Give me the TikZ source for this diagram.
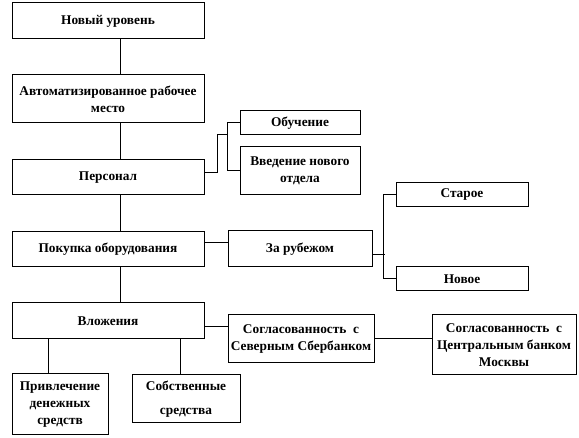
\documentclass[tikz,border=0pt]{standalone}
\usepackage{fontspec}
\setmainfont{Liberation Serif}
\usetikzlibrary{calc,positioning}
\tikzset{
 org box/.style={draw=black,line width=.75pt,fill=white,inner sep=1pt,
                 align=center,font=\fontsize{10}{12.75}\selectfont\bfseries},
 org link/.style={line width=.75pt,black}
}

\begin{document}
\begin{tikzpicture}[x=.75pt,y=-.75pt]
 \useasboundingbox (0,0) rectangle (579,438);

 % main column
 \node[org box,minimum width=144pt,minimum height=27pt] (novy) at (108,21) {Новый уровень};
 \node[org box,minimum width=144pt,minimum height=36pt] (arm) at (108,99)
   {Автоматизированное рабочее\\место};
 \node[org box,minimum width=144pt,minimum height=26.25pt] (pers) at (108,177.5) {Персонал};
 \node[org box,minimum width=144pt,minimum height=26.25pt] (pokup) at (108,249.5) {Покупка оборудования};
 \node[org box,minimum width=144pt,minimum height=27pt] (vlozh) at (108,321) {Вложения};

 % branches
 \node[org box,minimum width=90pt,minimum height=18pt] (obuch) at (300,123) {Обучение};
 \node[org box,minimum width=90pt,minimum height=36pt] (vved) at (300,171)
   {Введение нового\\отдела};
 \node[org box,minimum width=108pt,minimum height=27pt] (zarub) at (300,249) {За рубежом};
 \node[org box,minimum width=99pt,minimum height=18pt] (staroe) at (462,195) {Старое};
 \node[org box,minimum width=99pt,minimum height=18pt] (novoe) at (462,279) {Новое};
 \node[org box,minimum width=109.5pt,minimum height=36pt] (sogl1) at (301,339)
   {Согласованность\ \ с\\Северным Сбербанком};
 \node[org box,minimum width=108pt,minimum height=45pt] (sogl2) at (504,345)
   {Согласованность\ \ с\\Центральным банком\\Москвы};
 \node[org box,minimum width=72pt,minimum height=45.75pt] (privl) at (60,404.5)
   {Привлечение\\денежных\\средств};
 \node[org box,minimum width=81pt,minimum height=36pt] (sobstv) at (186,399)
   {Собственные\\[5pt]средства};

 % vertical links
 \draw[org link] ([xshift=9pt]novy.south) -- ([xshift=9pt]arm.north);
 \draw[org link] ([xshift=9pt]arm.south) -- ([xshift=9pt]pers.north);
 \draw[org link] ([xshift=9pt]pers.south) -- ([xshift=9pt]pokup.north);
 \draw[org link] ([xshift=9pt]pokup.south) -- ([xshift=9pt]vlozh.north);
 \draw[org link] ([xshift=-9pt]privl.north) -- ([xshift=-9pt]privl.north |- vlozh.south);
 \draw[org link] ([xshift=-4.5pt]sobstv.north) -- ([xshift=-4.5pt]sobstv.north |- vlozh.south);

 % side links
 \coordinate (p out) at ([yshift=4pt]pers.east);
 \coordinate (p bus) at (228,135);
 \draw[org link] (p out) -| (217,135) -- (p bus);
 \draw[org link] (obuch.west) -- ++(-12,0) |- (vved.west);

 \coordinate (k out) at ([yshift=5pt]pokup.east);
 \draw[org link] (k out) -- (k out -| zarub.west);
 \draw[org link] ([yshift=-4.5pt]zarub.east) -- ++(12,0);
 \draw[org link] (staroe.west) -- ++(-12,0) |- (novoe.west);

 \coordinate (v out) at ([yshift=-4.5pt]vlozh.east);
 \draw[org link] (v out) -- (v out -| sogl1.west);
 \draw[org link] (sogl1.east) -- (sogl1.east -| sogl2.west);
\end{tikzpicture}
\end{document}
